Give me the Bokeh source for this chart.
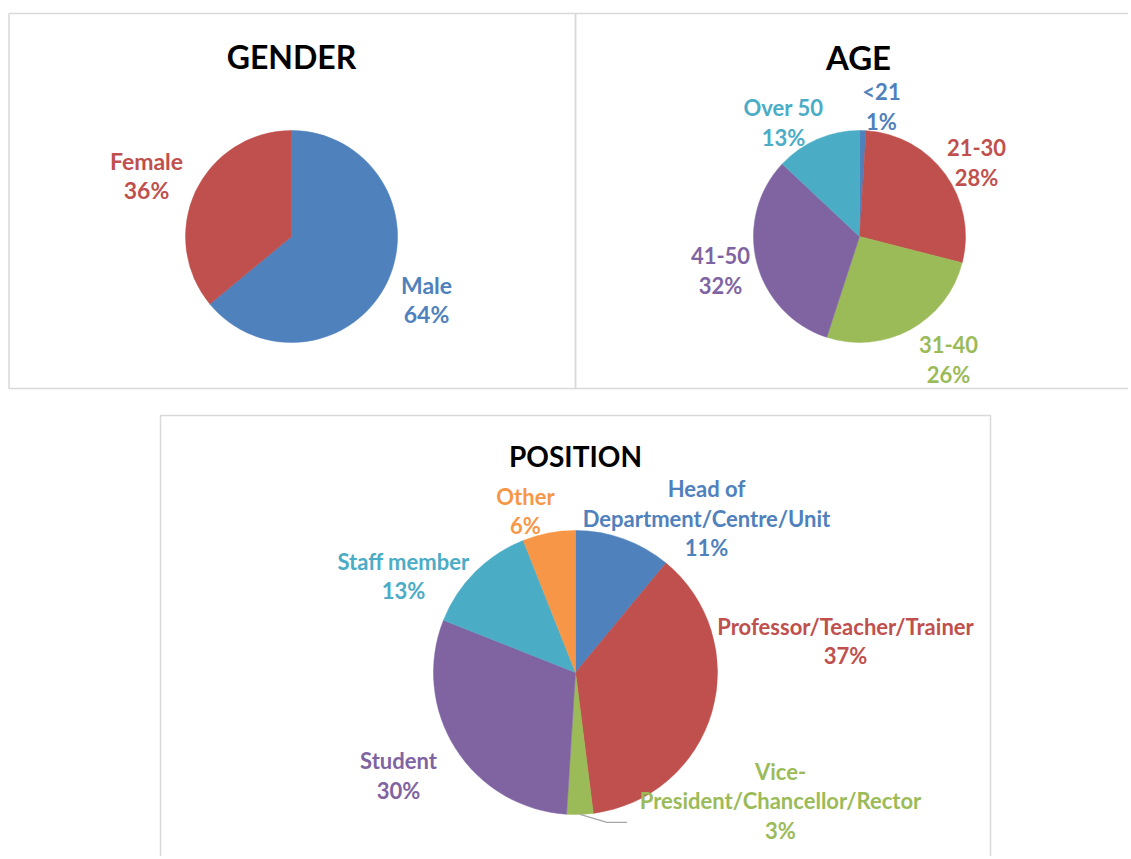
import numpy as np
from bokeh.plotting import figure
from bokeh.models import Range1d
from bokeh.core.properties import value
from bokeh.embed import file_html
from bokeh.resources import INLINE

# ---------------- data ----------------
gender_labels = ["Male", "Female"]
gender_values = [64, 36]

age_labels = ["<21", "21-30", "31-40", "41-50", "Over 50"]
age_values = [1, 28, 26, 32, 13]

position_labels = ["Head of\nDepartment/Centre/Unit", "Professor/Teacher/Trainer",
                   "Vice-\nPresident/Chancellor/Rector", "Student", "Staff member", "Other"]
position_values = [11, 37, 3, 30, 13, 6]

# ---------------- styles / layout ----------------
BLUE, RED, GREEN, PURPLE, TEAL, ORANGE = "#4F81BD", "#C0504D", "#9BBB59", "#8064A2", "#4BACC6", "#F79646"
gender_colors = [BLUE, RED]
age_colors = [BLUE, RED, GREEN, PURPLE, TEAL]
position_colors = [BLUE, RED, GREEN, PURPLE, TEAL, ORANGE]

FONT = "Lato"
W, H = 1128, 856
WIN_H = 859

def Y(sy):
    # screen y -> data y
    return WIN_H - sy

p = figure(width=W, height=H, output_backend="svg", toolbar_location=None,
           x_range=Range1d(0, W), y_range=Range1d(Y(H), Y(0)),
           min_border=0, outline_line_color=None)
p.axis.visible = False
p.grid.visible = False
p.background_fill_color = "white"

# panel borders
BORDER = "#D9D9D9"
p.quad(left=[8.5, 575], right=[575, 1140], top=[Y(13)] * 2, bottom=[Y(388)] * 2,
       fill_color=None, line_color=BORDER, line_width=1.5)
p.quad(left=[160], right=[990], top=[Y(415)], bottom=[Y(880)],
       fill_color=None, line_color=BORDER, line_width=1.5)


def pie(cx, cy, r, labels, values, colors, offsets, fsize, lh):
    vals = np.array(values, dtype=float)
    frac = vals / vals.sum()
    c1 = np.cumsum(frac)
    c0 = c1 - frac
    start = np.pi / 2 - 2 * np.pi * c1
    end = np.pi / 2 - 2 * np.pi * c0
    p.wedge(x=[cx] * len(vals), y=[Y(cy)] * len(vals), radius=r,
            start_angle=start, end_angle=end, fill_color=colors,
            line_color=colors, line_width=0.5)
    for lab, v, col, (dx, dy) in zip(labels, values, colors, offsets):
        lines = lab.split("\n") + [f"{v}%"]
        n = len(lines)
        for i, t in enumerate(lines):
            sy = cy + dy + (i - (n - 1) / 2) * lh
            p.text(x=[cx + dx], y=[Y(sy)], text=[t], text_color=col,
                   text_font=value(FONT), text_font_style="bold",
                   text_font_size=fsize, text_align="center",
                   text_baseline="middle")
    return start, end


def title(x, sy, t, size):
    p.text(x=[x], y=[Y(sy)], text=[t], text_color="black", text_font=value(FONT),
           text_font_style="bold", text_font_size=size, text_align="center",
           text_baseline="middle")


# GENDER
title(291, 56, "GENDER", "32px")
pie(291, 236, 106, gender_labels, gender_values, gender_colors,
    [(135, 63), (-145, -61)], "23px", 29)

# AGE
title(858, 56, "AGE", "33px")
pie(859, 236, 106, age_labels, age_values, age_colors,
    [(22, -130.5), (117, -74.5), (89, 122.5), (-139, 34), (-76, -114)], "22px", 30)

# POSITION
title(575, 455, "POSITION", "28px")
ps, pe = pie(575, 672, 142, position_labels, position_values, position_colors,
             [(131, -154.5), (270, -31.5), (205, 128), (-177, 103), (-172, -96.5), (-50, -161.5)],
             "22px", 29.5)

# leader line for the small Vice-President slice
mid = (ps[2] + pe[2]) / 2
sx = 575 + 142 * np.cos(mid)
sy = 672 - 142 * np.sin(mid)
p.line(x=[sx, sx + 27, sx + 47], y=[Y(sy), Y(sy + 8), Y(sy + 8)],
       line_color="#A6A6A6", line_width=1.2)

open("out.html", "w").write(file_html(p, INLINE))
